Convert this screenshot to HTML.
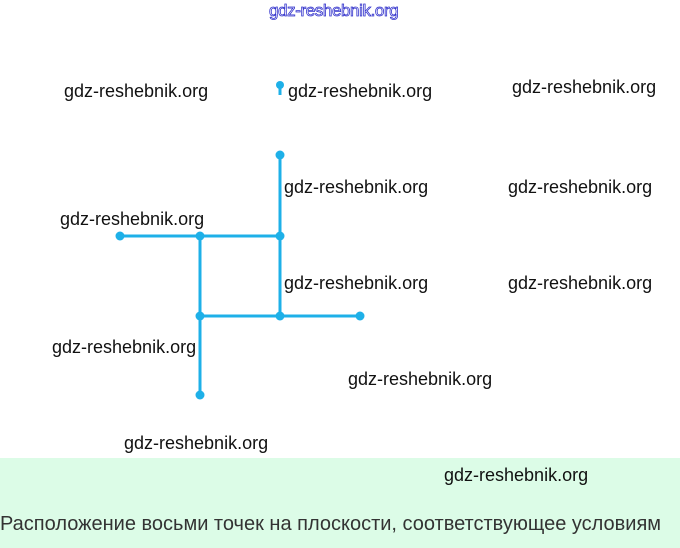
<!DOCTYPE html>
<html><head><meta charset="utf-8"><style>
body{margin:0;width:680px;height:548px;position:relative;background:#fff;overflow:hidden;font-family:"Liberation Sans",sans-serif}
.w{position:absolute;font-size:18px;color:#111;white-space:nowrap;letter-spacing:0px}
.band{position:absolute;left:0;top:458px;width:680px;height:90px;background:#dcfce7}
</style></head><body>
<div class="band"></div>
<div class="w" style="left:269px;top:1px;color:#fff;-webkit-text-stroke:0.8px #3333cc;font-size:17px;letter-spacing:-0.4px">gdz-reshebnik.org</div>
<svg width="680" height="548" style="position:absolute;left:0;top:0">
<g stroke="#1eb0e8" stroke-width="3" fill="none">
<line x1="280" y1="155" x2="280" y2="316"/>
<line x1="120" y1="236" x2="280" y2="236"/>
<line x1="200" y1="236" x2="200" y2="395"/>
<line x1="200" y1="316" x2="360" y2="316"/>
<line x1="280" y1="84" x2="280" y2="95"/>
</g>
<g fill="#1eb0e8">
<circle cx="280" cy="155" r="4.5"/><circle cx="120" cy="236" r="4.5"/><circle cx="200" cy="236" r="4.5"/><circle cx="280" cy="236" r="4.5"/>
<circle cx="200" cy="316" r="4.5"/><circle cx="280" cy="316" r="4.5"/><circle cx="360" cy="316" r="4.5"/><circle cx="200" cy="395" r="4.5"/>
<circle cx="280" cy="85" r="4"/>
</g>
</svg>
<div class="w" style="left:64px;top:81px">gdz-reshebnik.org</div>
<div class="w" style="left:288px;top:81px">gdz-reshebnik.org</div>
<div class="w" style="left:512px;top:77px">gdz-reshebnik.org</div>
<div class="w" style="left:284px;top:177px">gdz-reshebnik.org</div>
<div class="w" style="left:508px;top:177px">gdz-reshebnik.org</div>
<div class="w" style="left:60px;top:209px">gdz-reshebnik.org</div>
<div class="w" style="left:284px;top:273px">gdz-reshebnik.org</div>
<div class="w" style="left:508px;top:273px">gdz-reshebnik.org</div>
<div class="w" style="left:52px;top:337px">gdz-reshebnik.org</div>
<div class="w" style="left:348px;top:369px">gdz-reshebnik.org</div>
<div class="w" style="left:124px;top:433px">gdz-reshebnik.org</div>
<div class="w" style="left:444px;top:465px">gdz-reshebnik.org</div>
<div class="w" style="left:0px;top:513px;color:#333;font-size:20px;letter-spacing:0px">Расположение восьми точек на плоскости, соответствующее условиям</div>
</body></html>
